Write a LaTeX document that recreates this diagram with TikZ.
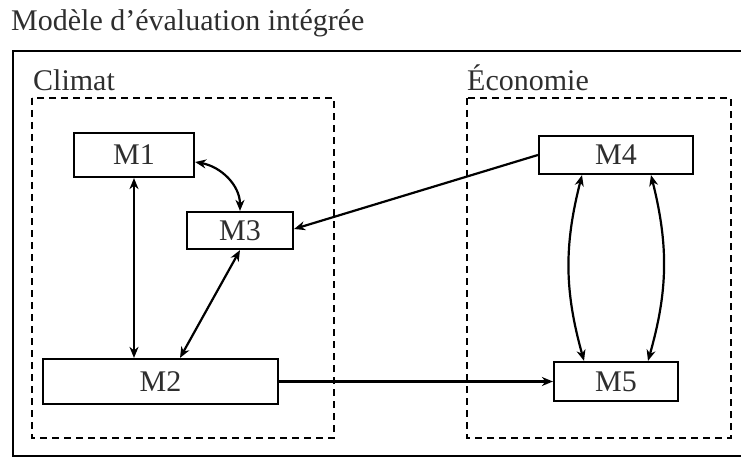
\documentclass[tikz,border=0pt]{standalone}
\usepackage{fontspec}
\setmainfont{Liberation Serif}
\usetikzlibrary{arrows.meta}
\definecolor{inkgray}{gray}{0.18}
\tikzset{
  model/.style={draw, line width=2.2pt, fill=white, inner sep=0pt, text=inkgray,
                font=\fontsize{30}{36}\selectfont},
  label/.style={anchor=base west, inner sep=0pt, text=inkgray,
                font=\fontsize{30}{36}\selectfont},
  group/.style={draw, line width=2.2pt, dash pattern=on 7pt off 5pt},
  tipA/.style={arrows={-Stealth[length=11pt,width=9pt,inset=3.5pt]}},
  link/.style={line width=2.2pt, tipA},
  biLink/.style={line width=2.2pt,
               arrows={Stealth[length=11pt,width=9pt,inset=3.5pt]-Stealth[length=11pt,width=9pt,inset=3.5pt]}}
}
\begin{document}
\begin{tikzpicture}[x=1pt,y=1pt]
  \useasboundingbox (0,0) rectangle (741,-457);

  % title and outer frame
  \node[label] (title) at (11,-31) {Modèle d’évaluation intégrée};
  \draw[line width=2.2pt] (13,-51) rectangle (746,-456);

  % the two sub-systems
  \draw[group] (32,-98) rectangle (334,-438);
  \draw[group] (467,-98) rectangle (731,-438);
  \node[label] (climat) at (33,-91) {Climat};
  \node[label] (eco) at (467,-91) {Économie};

  % models
  \node[model, minimum width=120pt, minimum height=44pt] (m1) at (134,-155) {M1};
  \node[model, minimum width=106pt, minimum height=37pt] (m3) at (240,-230.5) {M3};
  \node[model, minimum width=235pt, minimum height=45pt] (m2) at (160.5,-381.5) {M2};
  \node[model, minimum width=154pt, minimum height=38pt] (m4) at (616,-155) {M4};
  \node[model, minimum width=124pt, minimum height=39pt] (m5) at (616,-381.5) {M5};

  % couplings
  \draw[biLink] ([yshift=-7pt]m1.east) to[out=-10,in=90] (m3.north);
  \draw[biLink] (m1.south) -- (m1.south |- m2.north);
  \draw[biLink] (m3.south) -- ([xshift=19.5pt]m2.north);
  \draw[link] (m4.west) -- ([yshift=1.5pt]m3.east);
  \draw[link] (m2.east) -- (m5.west);
  \draw[biLink] ([xshift=-34pt]m4.south) to[bend right=15] ([xshift=-32pt]m5.north);
  \draw[biLink] ([xshift=35pt]m4.south) to[bend left=15] ([xshift=32pt]m5.north);
\end{tikzpicture}
\end{document}
